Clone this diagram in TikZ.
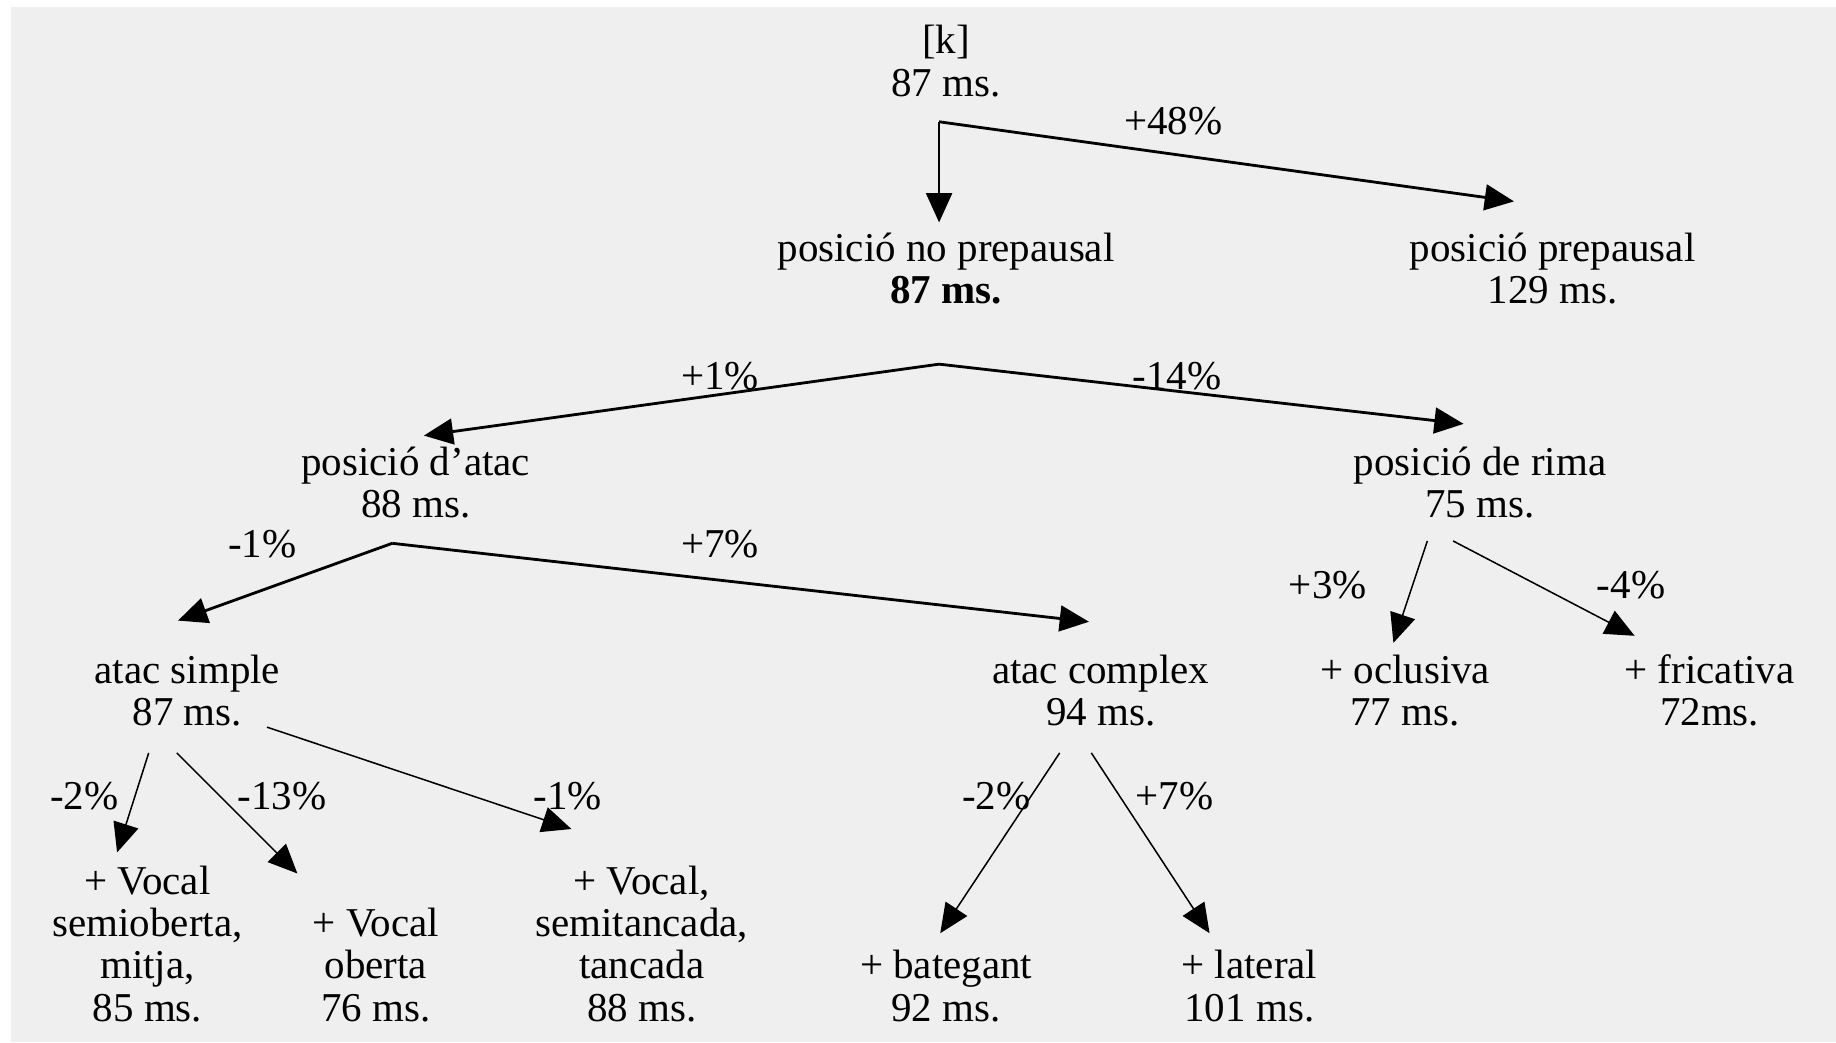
\documentclass[tikz,border=0pt]{standalone}
\usepackage{fontspec}
\setmainfont{Liberation Serif}
\usetikzlibrary{arrows.meta}
\definecolor{bg}{HTML}{EFEFEF}
\begin{document}
\begin{tikzpicture}[x=1pt,y=-1pt,
  txt/.style={anchor=base,inner sep=0pt,align=center,font=\fontsize{35}{36}\selectfont},
  pct/.style={anchor=base,inner sep=0pt,font=\fontsize{35}{36}\selectfont},
  conn/.style={line width=2.4pt,-{Triangle[length=25pt,width=22pt]}},
  thinconn/.style={line width=1.3pt,-{Triangle[length=25pt,width=22pt]}}]
\useasboundingbox (0,0) rectangle (1568,890);
\fill[white] (0,0) rectangle (1568,890);
\fill[bg] (9,6) rectangle (1568,890);
% nodes (anchored at the baseline of their last line)
\node[txt] (k) at (808,82) {[k]\\87 ms.};
\node[txt] (nopre) at (808,259) {posició no prepausal\\\textbf{87 ms.}};
\node[txt] (pre) at (1326,259) {posició prepausal\\129 ms.};
\node[txt] (atac) at (355,442) {posició d'atac\\88 ms.};
\node[txt] (rima) at (1264,442) {posició de rima\\75 ms.};
\node[txt] (simple) at (160,620) {atac simple\\87 ms.};
\node[txt] (complex) at (940,620) {atac complex\\94 ms.};
\node[txt] (oclus) at (1200,620) {+ oclusiva\\77 ms.};
\node[txt] (fric) at (1460,620) {+ fricativa\\72ms.};
\node[txt] (v1) at (126,872) {+ Vocal\\semioberta,\\mitja,\\85 ms.};
\node[txt] (v2) at (321,872) {+ Vocal\\oberta\\76 ms.};
\node[txt] (v3) at (548,872) {+ Vocal,\\semitancada,\\tancada\\88 ms.};
\node[txt] (bat) at (808,872) {+ bategant\\92 ms.};
\node[txt] (lat) at (1067,872) {+ lateral\\101 ms.};
% percentage labels
\node[pct] (p48) at (1002,115) {+48\%};
\node[pct] (p1) at (615,333) {+1\%};
\node[pct] (m14) at (1005,333) {-14\%};
\node[pct] (m1a) at (224,476) {-1\%};
\node[pct] (p7a) at (615,476) {+7\%};
\node[pct] (p3) at (1134,511) {+3\%};
\node[pct] (m4) at (1393,511) {-4\%};
\node[pct] (m2a) at (72,691) {-2\%};
\node[pct] (m13) at (241,691) {-13\%};
\node[pct] (m1b) at (485,691) {-1\%};
\node[pct] (m2b) at (851,691) {-2\%};
\node[pct] (p7b) at (1003,691) {+7\%};
% branch points and tips
\coordinate (kb) at (802,104);
\coordinate (tnopre) at (802,190);
\coordinate (tpre) at (1293,172);
\coordinate (nb) at (802,311);
\coordinate (tatac) at (362,372);
\coordinate (trima) at (1250,362);
\coordinate (ab) at (335,464);
\coordinate (tsimple) at (152,530);
\coordinate (tcomplex) at (930,531);
\coordinate (rb1) at (1219,462);
\coordinate (rb2) at (1241,462);
\coordinate (toclus) at (1190,549);
\coordinate (tfric) at (1396,543);
\coordinate (sb1) at (127,643);
\coordinate (sb2) at (151,643);
\coordinate (sb3) at (228,621);
\coordinate (tv1) at (100,728);
\coordinate (tv2) at (254,746);
\coordinate (tv3) at (488,708);
\coordinate (cb1) at (905,643);
\coordinate (cb2) at (932,643);
\coordinate (tbat) at (803,797);
\coordinate (tlat) at (1033,797);
% connectors
\draw[conn] (kb) -- (tnopre);
\draw[conn] (kb) -- (tpre);
\draw[conn] (nb) -- (tatac);
\draw[conn] (nb) -- (trima);
\draw[conn] (ab) -- (tsimple);
\draw[conn] (ab) -- (tcomplex);
\draw[thinconn] (rb1) -- (toclus);
\draw[thinconn] (rb2) -- (tfric);
\draw[thinconn] (sb1) -- (tv1);
\draw[thinconn] (sb2) -- (tv2);
\draw[thinconn] (sb3) -- (tv3);
\draw[thinconn] (cb1) -- (tbat);
\draw[thinconn] (cb2) -- (tlat);
\end{tikzpicture}
\end{document}
